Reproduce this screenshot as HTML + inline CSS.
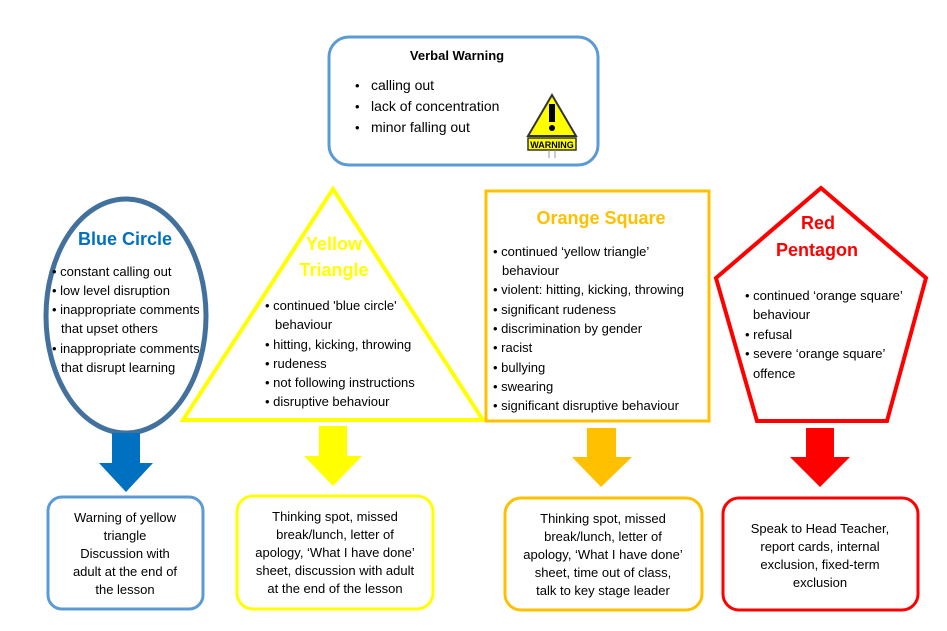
<!DOCTYPE html>
<html><head><meta charset="utf-8"><style>
body{margin:0;background:#fff}
svg{display:block}
text{font-family:"Liberation Sans",sans-serif;font-size:13px;fill:#000}
.b{font-weight:bold}
</style></head><body>
<svg width="947" height="631" viewBox="0 0 947 631">
<!-- Verbal warning -->
<rect x="329" y="37" width="269" height="128" rx="20" fill="#fff" stroke="#5b9bd5" stroke-width="3"/>
<text x="457" y="60" text-anchor="middle" class="b" font-size="12">Verbal Warning</text>
<g font-size="14">
<text x="355" y="90">•</text><text x="371" y="90" style="font-size:14px">calling out</text>
<text x="355" y="111">•</text><text x="371" y="111" style="font-size:14px">lack of concentration</text>
<text x="355" y="132">•</text><text x="371" y="132" style="font-size:14px">minor falling out</text>
</g>
<polygon points="552,95 576,136 528,136" fill="#ffff00" stroke="#333" stroke-width="2"/>
<rect x="549" y="104" width="6" height="18" fill="#000"/><circle cx="552" cy="128" r="3" fill="#000"/>
<rect x="528" y="138" width="48" height="12" fill="#ffff00" stroke="#333" stroke-width="1.5"/>
<text x="552" y="148" text-anchor="middle" class="b" style="font-size:9px">WARNING</text>
<line x1="549" y1="150" x2="549" y2="158" stroke="#999"/><line x1="555" y1="150" x2="555" y2="158" stroke="#999"/>

<!-- Blue circle -->
<ellipse cx="126" cy="316" rx="80" ry="117" fill="#fff" stroke="#41719c" stroke-width="5"/>
<text x="125" y="245" text-anchor="middle" class="b" style="font-size:18px;fill:#0070c0">Blue Circle</text>
<text x="52" y="276">• constant calling out</text>
<text x="52" y="295">• low level disruption</text>
<text x="52" y="314">• inappropriate comments</text>
<text x="61" y="333">that upset others</text>
<text x="52" y="353">• inappropriate comments</text>
<text x="61" y="372">that disrupt learning</text>

<!-- Yellow triangle -->
<polygon points="333,189 483,420 183,420" fill="#fff" stroke="#ffff00" stroke-width="4" stroke-linejoin="miter"/>
<text x="334" y="250" text-anchor="middle" class="b" style="font-size:18px;fill:#ffff00">Yellow</text>
<text x="334" y="276" text-anchor="middle" class="b" style="font-size:18px;fill:#ffff00">Triangle</text>
<text x="265" y="310">• continued 'blue circle'</text>
<text x="275" y="329">behaviour</text>
<text x="265" y="349">• hitting, kicking, throwing</text>
<text x="265" y="368">• rudeness</text>
<text x="265" y="387">• not following instructions</text>
<text x="265" y="406">• disruptive behaviour</text>

<!-- Orange square -->
<rect x="486" y="191" width="223" height="230" fill="#fff" stroke="#ffc000" stroke-width="3"/>
<text x="601" y="224" text-anchor="middle" class="b" style="font-size:18px;fill:#ffc000">Orange Square</text>
<text x="493" y="256">• continued ‘yellow triangle’</text>
<text x="502" y="275">behaviour</text>
<text x="493" y="294">• violent: hitting, kicking, throwing</text>
<text x="493" y="314">• significant rudeness</text>
<text x="493" y="333">• discrimination by gender</text>
<text x="493" y="352">• racist</text>
<text x="493" y="372">• bullying</text>
<text x="493" y="391">• swearing</text>
<text x="493" y="410">• significant disruptive behaviour</text>

<!-- Red pentagon -->
<polygon points="821,188 926,278 887,421 757,421 716,278" fill="#fff" stroke="#ff0000" stroke-width="4"/>
<text x="818" y="229" text-anchor="middle" class="b" style="font-size:18px;fill:#ff0000">Red</text>
<text x="817" y="256" text-anchor="middle" class="b" style="font-size:18px;fill:#ff0000">Pentagon</text>
<text x="745" y="300">• continued ‘orange square’</text>
<text x="753" y="319">behaviour</text>
<text x="745" y="339">• refusal</text>
<text x="745" y="358">• severe ‘orange square’</text>
<text x="753" y="378">offence</text>

<!-- Arrows -->
<polygon points="112,433 140,433 140,463 153,463 126,492 99,463 112,463" fill="#0070c0"/>
<polygon points="319,426 347,426 347,456 362,456 333,486 304,456 319,456" fill="#ffff00"/>
<polygon points="587,428 616,428 616,457 632,457 601,487 572,457 587,457" fill="#ffc000"/>
<polygon points="806,428 834,428 834,457 850,457 820,487 790,457 806,457" fill="#ff0000"/>

<!-- Bottom boxes -->
<rect x="48" y="497" width="155" height="112" rx="14" fill="#fff" stroke="#5b9bd5" stroke-width="3"/>
<g text-anchor="middle">
<text x="125" y="522">Warning of yellow</text>
<text x="125" y="540">triangle</text>
<text x="125" y="558">Discussion with</text>
<text x="125" y="576">adult at the end of</text>
<text x="125" y="594">the lesson</text>
</g>
<rect x="237" y="496" width="196" height="113" rx="16" fill="#fff" stroke="#ffff00" stroke-width="3"/>
<g text-anchor="middle">
<text x="335" y="521">Thinking spot, missed</text>
<text x="335" y="539">break/lunch, letter of</text>
<text x="335" y="557">apology, ‘What I have done’</text>
<text x="335" y="575">sheet, discussion with adult</text>
<text x="335" y="593">at the end of the lesson</text>
</g>
<rect x="505" y="498" width="197" height="112" rx="16" fill="#fff" stroke="#ffc000" stroke-width="3"/>
<g text-anchor="middle">
<text x="603" y="523">Thinking spot, missed</text>
<text x="603" y="541">break/lunch, letter of</text>
<text x="603" y="559">apology, ‘What I have done’</text>
<text x="603" y="577">sheet, time out of class,</text>
<text x="603" y="595">talk to key stage leader</text>
</g>
<rect x="723" y="498" width="195" height="112" rx="16" fill="#fff" stroke="#ff0000" stroke-width="3"/>
<g text-anchor="middle">
<text x="820" y="533">Speak to Head Teacher,</text>
<text x="820" y="551">report cards, internal</text>
<text x="820" y="569">exclusion, fixed-term</text>
<text x="820" y="587">exclusion</text>
</g>
</svg>
</body></html>
